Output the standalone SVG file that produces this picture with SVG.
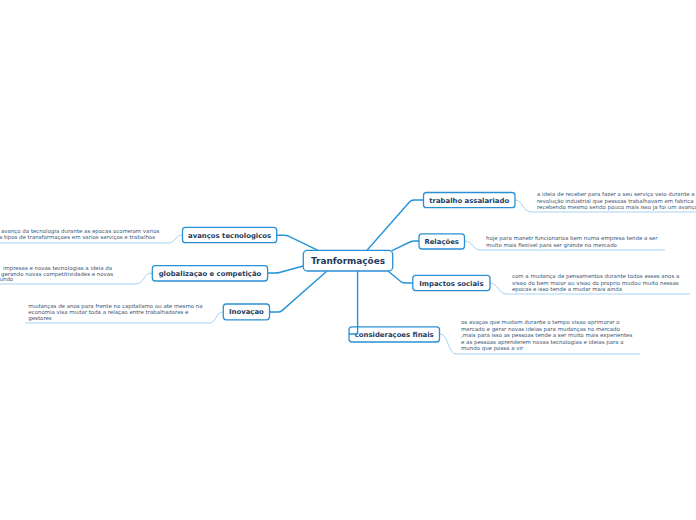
<svg xmlns="http://www.w3.org/2000/svg" width="696" height="520" viewBox="0 0 696 520">
<style>
.box{fill:#fff;stroke:#2a90d6;stroke-width:1.3}
.lbl{font-family:"DejaVu Sans",Verdana,sans-serif;font-weight:bold;font-size:6.9px;fill:#1e3a5c;text-anchor:middle}
.main{font-size:8.9px}
.note{font-family:"DejaVu Sans",Verdana,sans-serif;font-size:5.45px;fill:#3a5470}
.con{fill:none;stroke:#2593d8;stroke-width:1.4}
.ul{fill:none;stroke:#a3d3f2;stroke-width:1}
</style>
<rect width="696" height="520" fill="#fff"/>
<g id="notes">
<path class="ul" d="M515,200 C523,200 522,212 532,212 L696,212"/>
<text class="note"><tspan x="537" y="196.2">a ideia de receber para fazer o seu serviço veio durante a</tspan><tspan x="537" y="202.7">revolução industrial que pessoas trabalhavam em fabrica</tspan><tspan x="537" y="209.2">recebendo mesmo sendo pouco mais isso ja foi um avanço</tspan></text>
<path class="ul" d="M465,241 C473,241 472,250 481,250 L665,250"/>
<text class="note"><tspan x="486" y="240">hoje para manetr funcionarios bem numa empresa tende a ser</tspan><tspan x="486" y="246.6">muito mais flexivel para ser grande no mercado</tspan></text>
<path class="ul" d="M490,283 C498,283 498,294 507,294 L690,294"/>
<text class="note"><tspan x="512" y="278">com a mudança de pensamentos durante todos esses anos a</tspan><tspan x="512" y="284.6">visao do bem maior ou visao do proprio mudou muito nessas</tspan><tspan x="512" y="291.2">epocas e isso tende a mudar mais ainda</tspan></text>
<path class="ul" d="M440,334 C449,334 447,354 457,354 L640,354"/>
<text class="note"><tspan x="461" y="324">os avaços que mudam durante o tempo visao aprimorar o</tspan><tspan x="461" y="330.5">mercado e gerar novas ideias para mudanças no mercado</tspan><tspan x="461" y="337">,mais para isso as pessoas tende a ser muito mais experientes</tspan><tspan x="461" y="343.5">e as pessoas aprenderem novas tecnologias e ideias para o</tspan><tspan x="461" y="350">mundo que possa a vir</tspan></text>
<path class="ul" d="M182,235 C175,235 176,243 168,243 L0,243"/>
<text class="note"><tspan x="1" y="233">avanço da tecnologia durante as epocas ocorreram varios</tspan><tspan x="-0.5" y="239.4">s tipos de transformaçoes em varios serviços e trabalhos</tspan></text>
<path class="ul" d="M152,273 C143,273 145,284 135,284 L0,284"/>
<text class="note"><tspan x="3" y="270.2">impresas e novas tecnologias a ideia da</tspan><tspan x="1" y="275.8">gerando novas competitividades e novas</tspan><tspan x="-0.5" y="281.4">undo</tspan></text>
<path class="ul" d="M223,312 C215,312 217,323 209,323 L25,323"/>
<text class="note"><tspan x="28.3" y="308">mudanças de anos para frente no capitalismo ou ate mesmo na</tspan><tspan x="28.3" y="313.7">economia visa mudar toda a relaçao entre trabalhadores e</tspan><tspan x="28.3" y="319.7">gestores</tspan></text>
</g>
<g id="center">
<rect class="box" x="303.3" y="250.3" width="89.4" height="20.7" rx="4" stroke-width="1.5"/>
<text class="lbl main" x="348" y="264">Tranformações</text>
</g>
<g id="trabalho">
<rect class="box" x="423.5" y="192.5" width="91.5" height="15.2" rx="3"/>
<text class="lbl" x="469.2" y="202.6">trabalho assalariado</text>
</g>
<g id="relacoes">
<rect class="box" x="419" y="233.8" width="45.5" height="15.2" rx="3"/>
<text class="lbl" x="441.7" y="243.9">Relações</text>
</g>
<g id="impactos">
<rect class="box" x="412.8" y="275.3" width="77.2" height="15.3" rx="3"/>
<text class="lbl" x="451.4" y="285.5">Impactos sociais</text>
</g>
<g id="consideracoes">
<rect class="box" x="349" y="326.8" width="90.5" height="15.2" rx="3"/>
<text class="lbl" x="394.2" y="336.9">consideraçoes finais</text>
</g>
<g id="avancos">
<rect class="box" x="182.5" y="227.4" width="94.2" height="15.3" rx="3"/>
<text class="lbl" x="229.6" y="237.6">avanços tecnologicos</text>
</g>
<g id="globalizacao">
<rect class="box" x="152.3" y="265.7" width="115.3" height="15.3" rx="3"/>
<text class="lbl" x="210" y="275.9">globalizaçao e competição</text>
</g>
<g id="inovacao">
<rect class="box" x="223.3" y="304" width="46.2" height="15.8" rx="3"/>
<text class="lbl" x="246.4" y="314.4">Inovaçao</text>
</g>
<g id="connectors">
<path class="con" d="M367,250.3 L409.5,202 Q411.3,200 414,200 L423.5,200"/>
<path class="con" d="M392,250.6 L410,242 Q412,241 414.5,241 L419,241"/>
<path class="con" d="M388,271 L401,281.8 Q403,283 406,283 L412.8,283"/>
<path class="con" d="M357.6,271 L357.6,332 Q357.6,334 355.6,334 L349,334"/>
<path class="con" d="M318,250.3 L288.5,236.2 Q286.5,235.2 284,235.2 L276.7,235.2"/>
<path class="con" d="M303.3,266 L279.5,272.5 Q277.5,273 275,273 L267.6,273"/>
<path class="con" d="M327,271 L282,310.6 Q280.3,312 278,312 L269.5,312"/>
</g>
</svg>
